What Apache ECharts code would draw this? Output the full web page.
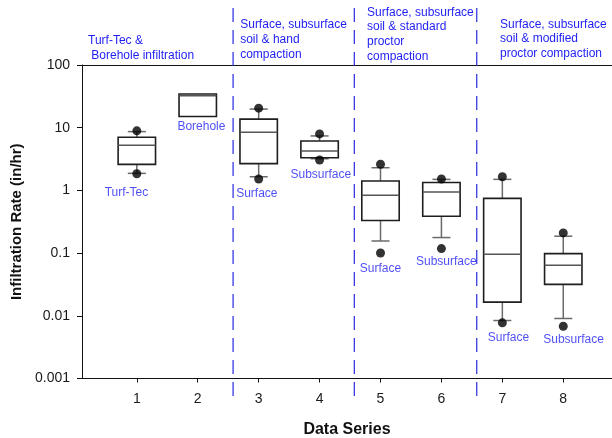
<!DOCTYPE html>
<html>
<head>
<meta charset="utf-8">
<script src="https://cdn.jsdelivr.net/npm/echarts@6/dist/echarts.min.js"></script>
<style>
html,body{margin:0;padding:0;background:#fff;}
#chart{width:612px;height:438px;}
</style>
</head>
<body>
<div id="chart"></div>
<script>
// ---- data ----
const categories = [1, 2, 3, 4, 5, 6, 7, 8];
const lowWhisker  = [1.87, 15.1, 1.65, 3.2,  0.156, 0.177, 0.00841, 0.00906];
const q1Values    = [2.6,  15.1, 2.67, 3.32, 0.331, 0.388, 0.0165,  0.0317];
const medianVals  = [5.25, 32.3, 8.47, 4.25, 0.84,  0.94,  0.0957,  0.0638];
const q3Values    = [7.05, 34.4, 13.7, 6.15, 1.41,  1.34,  0.745,   0.0982];
const highWhisker = [8.66, 34.4, 19.8, 7.39, 2.30,  1.50,  1.5,     0.186];
const lowOutlier  = [1.84, null, 1.52, 3.05, 0.1005, 0.118, 0.00773, 0.00682];
const highOutlier = [8.9,  null, 20.5, 7.96, 2.61,  1.52,  1.65,    0.21];
const dividerPositions = [2.58, 4.57, 6.58];
const yTickLabels = ['0.001', '0.01', '0.1', '1', '10', '100'];
const xTickValues = [1, 2, 3, 4, 5, 6, 7, 8];
const labelX    = [0.83, 2.06, 2.97, 4.02, 5.0, 6.08, 7.1, 8.17];
const labelY    = [0.918, 10.4, 0.9, 1.76, 0.0557, 0.073, 0.00454, 0.00411];
const labelText = ['Turf-Tec', 'Borehole', 'Surface', 'Subsurface', 'Surface', 'Subsurface', 'Surface', 'Subsurface'];
const headerTexts = [
  'Turf-Tec &\n Borehole infiltration',
  'Surface, subsurface\nsoil & hand\ncompaction',
  'Surface, subsurface\nsoil & standard\nproctor\ncompaction',
  'Surface, subsurface\nsoil & modified\nproctor compaction'
];

// ---- build ----
const FONT = '"Liberation Sans", Arial, sans-serif';
const BLUE = '#1e1ef5';
const boxData = categories.map((c, i) => [c, lowWhisker[i], q1Values[i], medianVals[i], q3Values[i], highWhisker[i]]);
const outlierData = [];
categories.forEach((c, i) => {
  if (lowOutlier[i] != null) outlierData.push([c, lowOutlier[i]]);
  if (highOutlier[i] != null) outlierData.push([c, highOutlier[i]]);
});
const labelData = labelX.map((x, i) => [x, labelY[i], labelText[i]]);
const headerPos = [[88, 33.3], [240.2, 17.6], [367, 5], [500, 17]];

const chart = echarts.init(document.getElementById('chart'), null, {renderer: 'canvas'});
const halfBox = 0.307, halfCap = 0.148;
const whiskerColor = '#6a6a6a';

chart.setOption({
  animation: false,
  backgroundColor: '#fff',
  grid: {left: 82, right: 0, top: 65, bottom: 59.5, containLabel: false, outerBoundsMode: 'none'},
  xAxis: [{
    type: 'value', min: 0.1, max: 8.8, position: 'bottom',
    axisLine: {show: true, onZero: false, lineStyle: {color: '#111', width: 1}},
    axisTick: {show: true, length: 4, customValues: xTickValues, lineStyle: {color: '#111'}},
    axisLabel: {show: true, customValues: xTickValues, margin: 14, fontSize: 14, color: '#1a1a1a', fontFamily: FONT,
      formatter: v => String(Math.round(v))},
    splitLine: {show: false},
    name: 'Data Series', nameLocation: 'middle', nameGap: 43,
    nameTextStyle: {fontSize: 16, fontWeight: 'bold', color: '#111', fontFamily: FONT}
  }, {
    type: 'value', min: 0.1, max: 8.8, position: 'top',
    axisLine: {show: true, onZero: false, lineStyle: {color: '#111', width: 1}},
    axisTick: {show: false}, axisLabel: {show: false}, splitLine: {show: false}
  }],
  yAxis: {
    type: 'log', logBase: 10, min: 0.001, max: 100,
    axisLine: {show: true, lineStyle: {color: '#111', width: 1}},
    axisTick: {show: true, length: 5, lineStyle: {color: '#111'}},
    minorTick: {show: false},
    axisLabel: {margin: 12, fontSize: 14, color: '#1a1a1a', fontFamily: FONT,
      formatter: v => yTickLabels[Math.round(Math.log10(v)) + 3]},
    splitLine: {show: false},
    name: 'Infiltration Rate (in/hr)', nameLocation: 'middle', nameGap: 50, nameRotate: 90,
    nameTextStyle: {fontSize: 15, fontWeight: 'bold', color: '#111', fontFamily: FONT}
  },
  series: [
    {
      type: 'custom', name: 'dividers', clip: false, silent: true, z: 1,
      data: dividerPositions.map(x => [x, 1]),
      encode: {x: 0, y: 1},
      renderItem: (params, api) => {
        const p = api.coord([api.value(0), api.value(1)]);
        return {type: 'line', shape: {x1: p[0], y1: 8, x2: p[0], y2: 400},
          style: {stroke: '#2a2ae0', lineWidth: 1.2, lineDash: [14, 8]}};
      }
    },
    {
      type: 'custom', name: 'boxes', clip: false, z: 2,
      data: boxData,
      encode: {x: 0, y: [1, 2, 3, 4, 5]},
      renderItem: (params, api) => {
        const x = api.value(0);
        const low = api.value(1), q1 = api.value(2), med = api.value(3), q3 = api.value(4), high = api.value(5);
        const c = v => api.coord([x, v]);
        const xl = api.coord([x - halfBox, med])[0];
        const xr = api.coord([x + halfBox, med])[0];
        const cl = api.coord([x - halfCap, med])[0];
        const cr = api.coord([x + halfCap, med])[0];
        const pLow = c(low), pQ1 = c(q1), pMed = c(med), pQ3 = c(q3), pHigh = c(high);
        const children = [];
        const wStyle = {stroke: whiskerColor, lineWidth: 1.5};
        if (high > q3) {
          children.push({type: 'line', shape: {x1: pQ3[0], y1: pQ3[1], x2: pHigh[0], y2: pHigh[1]}, style: wStyle});
          children.push({type: 'line', shape: {x1: cl, y1: pHigh[1], x2: cr, y2: pHigh[1]}, style: wStyle});
        }
        if (low < q1) {
          children.push({type: 'line', shape: {x1: pQ1[0], y1: pQ1[1], x2: pLow[0], y2: pLow[1]}, style: wStyle});
          children.push({type: 'line', shape: {x1: cl, y1: pLow[1], x2: cr, y2: pLow[1]}, style: wStyle});
        }
        children.push({type: 'rect', shape: {x: xl, y: pQ3[1], width: xr - xl, height: pQ1[1] - pQ3[1]},
          style: {fill: '#fff', stroke: '#1e1e1e', lineWidth: 1.6}});
        children.push({type: 'line', shape: {x1: xl, y1: pMed[1], x2: xr, y2: pMed[1]},
          style: {stroke: '#555', lineWidth: 1.5}});
        return {type: 'group', children};
      }
    },
    {
      type: 'scatter', name: 'outliers', z: 3, symbol: 'circle', symbolSize: 9,
      itemStyle: {color: '#000'},
      data: outlierData
    },
    {
      type: 'scatter', name: 'labels', z: 4, symbolSize: 0, silent: true,
      data: labelData, encode: {x: 0, y: 1},
      label: {show: true, position: 'inside', formatter: p => p.value[2],
        color: BLUE, fontSize: 12, fontFamily: FONT}
    }
  ],
  graphic: headerTexts.map((t, i) => ({
    type: 'text', x: headerPos[i][0], y: headerPos[i][1], silent: true,
    style: {text: t, fill: BLUE, font: '12px ' + FONT, lineHeight: 14.7, verticalAlign: 'top', align: 'left'}
  }))
});
</script>
</body>
</html>
